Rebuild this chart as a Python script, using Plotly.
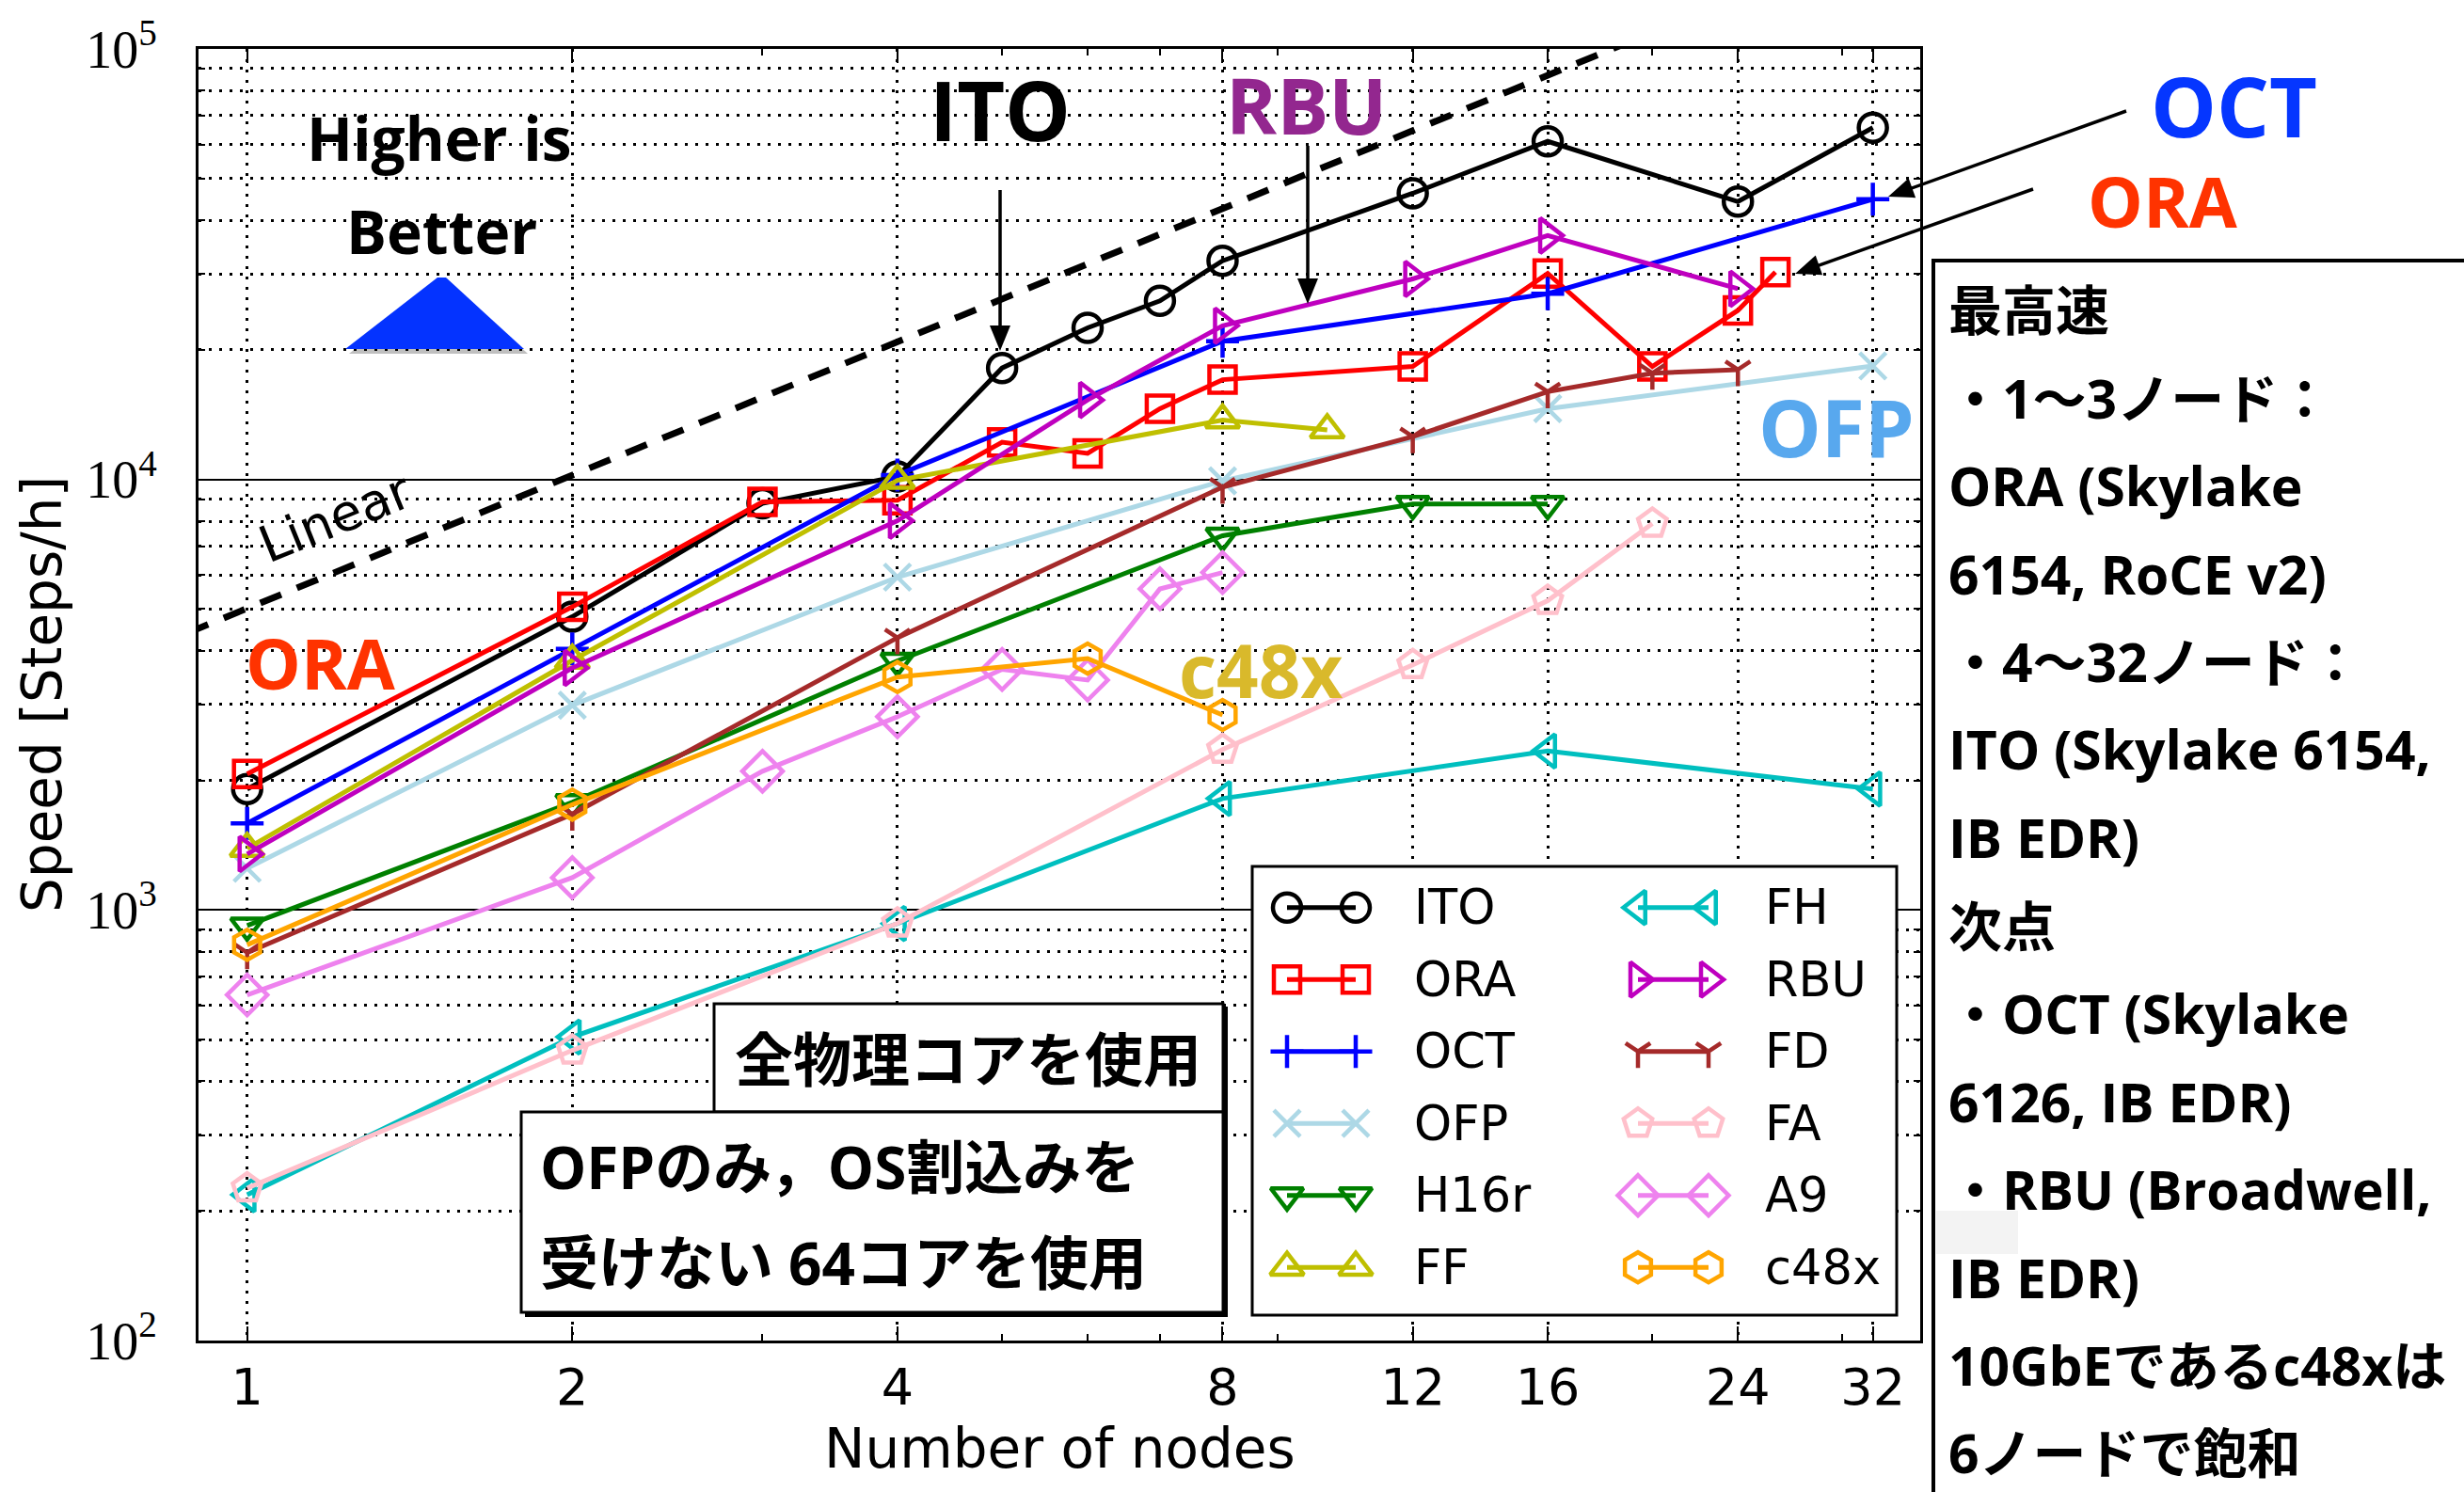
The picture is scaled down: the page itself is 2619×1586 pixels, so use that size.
import math
import plotly.graph_objects as go

# ---------------------------------------------------------------------------
# Measured speed [steps/h] against number of nodes, one pair of lists per system
# ---------------------------------------------------------------------------
ito_nodes = [1, 2, 3, 4, 5, 6, 7, 8, 12, 16, 24, 32]
ito_speed = [1910, 4800, 8800, 10160, 18150, 22500, 26000, 32200, 46200, 61000, 44200, 65600]

ora_nodes = [1, 2, 3, 4, 5, 6, 7, 8, 12, 16, 20, 24, 26]
ora_speed = [2070, 5060, 8870, 8950, 12200, 11500, 14600, 17050, 18300, 30100, 18300, 24700, 30300]

oct_nodes = [1, 2, 4, 8, 16, 32]
oct_speed = [1590, 4040, 10240, 20950, 27000, 44750]

ofp_nodes = [1, 2, 4, 8, 16, 32]
ofp_speed = [1250, 2990, 5930, 9930, 14600, 18350]

h16r_nodes = [1, 2, 4, 8, 12, 16]
h16r_speed = [920, 1780, 3790, 7400, 8770, 8770]

ff_nodes = [1, 2, 4, 8, 10]
ff_speed = [1390, 3800, 9950, 13740, 13030]

fh_nodes = [1, 2, 4, 8, 16, 32]
fh_speed = [218, 507, 930, 1815, 2340, 1910]

rbu_nodes = [1, 2, 4, 6, 8, 12, 16, 24]
rbu_speed = [1349, 3650, 8020, 15300, 22750, 29230, 36860, 27730]

fd_nodes = [1, 2, 4, 8, 12, 16, 20, 24]
fd_speed = [796, 1670, 4290, 9600, 12570, 15990, 17650, 17990]

fa_nodes = [1, 2, 4, 8, 12, 16, 20]
fa_speed = [226, 472, 931, 2358, 3710, 5230, 7900]

a9_nodes = [1, 2, 3, 4, 5, 6, 7, 8]
a9_speed = [635, 1189, 2100, 2812, 3621, 3420, 5570, 6080]

c48x_nodes = [1, 2, 4, 6, 8]
c48x_speed = [830, 1757, 3476, 3837, 2838]

# ideal linear-scaling reference
linear_nodes = [0.88, 19.0]
linear_speed = [4400, 103600]

x_tick_values = [1, 2, 4, 8, 12, 16, 24, 32]
x_tick_labels = ["1", "2", "4", "8", "12", "16", "24", "32"]
x_minor_values = [3, 5, 6, 7, 9, 20, 30]
y_tick_values = [100, 1000, 10000, 100000]
y_tick_labels = ["10<sup>2</sup>", "10<sup>3</sup>", "10<sup>4</sup>", "10<sup>5</sup>"]

# name, nodes, speed, colour, marker symbol, marker size
series = [
    ("ITO", ito_nodes, ito_speed, "#000000", "circle-open", 30),
    ("ORA", ora_nodes, ora_speed, "#FF0000", "square-open", 28),
    ("OCT", oct_nodes, oct_speed, "#0000FF", "cross-thin-open", 25),
    ("OFP", ofp_nodes, ofp_speed, "#ADD8E6", "x-thin-open", 28),
    ("H16r", h16r_nodes, h16r_speed, "#008000", "triangle-down-open", 30),
    ("FF", ff_nodes, ff_speed, "#BFBF00", "triangle-up-open", 31),
    ("FH", fh_nodes, fh_speed, "#00BFBF", "triangle-left-open", 31),
    ("RBU", rbu_nodes, rbu_speed, "#BF00BF", "triangle-right-open", 32),
    ("FD", fd_nodes, fd_speed, "#A52A2A", "y-down-open", 22),
    ("FA", fa_nodes, fa_speed, "#FFC0CB", "pentagon-open", 32),
    ("A9", a9_nodes, a9_speed, "#EE82EE", "diamond-open", 33),
    ("c48x", c48x_nodes, c48x_speed, "#FFA500", "hexagon-open", 32),
]

LINE_W = 5
EDGE_W = 4.5

# ---------------------------------------------------------------------------
# page geometry (pixels) and helpers to turn pixels into paper fractions
# ---------------------------------------------------------------------------
W, H = 2619, 1586
L, R, T, B = 211, 2041, 52, 1425


def px(x):
    return (x - L) / (R - L)


def py(y):
    return (B - y) / (B - T)


SANS = "DejaVu Sans"
BOLD = "Open Sans, Noto Sans CJK JP"

fig = go.Figure()

# reference line for ideal scaling
fig.add_trace(go.Scatter(
    x=linear_nodes, y=linear_speed, mode="lines",
    line=dict(color="black", width=7, dash="24px,18px"),
    hoverinfo="skip", showlegend=False,
))

for name, nodes, speed, color, symbol, size in series:
    fig.add_trace(go.Scatter(
        x=nodes, y=speed, mode="lines+markers", name=name,
        line=dict(color=color, width=LINE_W),
        marker=dict(symbol=symbol, size=size, color=color,
                    line=dict(color=color, width=EDGE_W)),
        cliponaxis=False, showlegend=False,
    ))

# ---------------------------------------------------------------------------
# hand-built two-column legend on its own pixel-scaled subplot
# ---------------------------------------------------------------------------
LG_L, LG_R, LG_T, LG_B = 1331, 2016, 921, 1398
fig.add_trace(go.Scatter(
    x=[LG_L, LG_R, LG_R, LG_L, LG_L], y=[LG_T, LG_T, LG_B, LG_B, LG_T],
    fill="toself", fillcolor="white", mode="lines", line=dict(width=0),
    xaxis="x2", yaxis="y2", hoverinfo="skip", showlegend=False,
))
row_y0, row_step = 964.7, 76.5
col_marks = [(1368, 1441), (1741, 1816)]
col_text = [1501, 1874]
annotations = []
for i, (name, nodes, speed, color, symbol, size) in enumerate(series):
    col, row = divmod(i, 6)
    yy = row_y0 + row_step * row
    fig.add_trace(go.Scatter(
        x=list(col_marks[col]), y=[yy, yy], mode="lines+markers",
        line=dict(color=color, width=LINE_W),
        marker=dict(symbol=symbol, size=size, color=color,
                    line=dict(color=color, width=EDGE_W)),
        xaxis="x2", yaxis="y2", hoverinfo="skip", showlegend=False,
    ))
    annotations.append(dict(
        x=px(col_text[col]), y=py(yy), xref="paper", yref="paper",
        text=name, showarrow=False, xanchor="left", yanchor="middle",
        font=dict(family=SANS, size=51, color="black"),
    ))

# ---------------------------------------------------------------------------
# text labels
# ---------------------------------------------------------------------------


def label(x, y, text, size, color="black", family=BOLD, bold=True, **kw):
    annotations.append(dict(
        x=px(x), y=py(y), xref="paper", yref="paper",
        text=f"<b>{text}</b>" if bold else text, showarrow=False,
        xanchor=kw.pop("xanchor", "center"), yanchor="middle",
        font=dict(family=family, size=size, color=color), **kw,
    ))


label(467, 146, "Higher is", 64)
label(469, 246, "Better", 64)
label(1063, 116, "ITO", 88)
label(1388, 111, "RBU", 82, "#93278F")
label(2374, 112, "OCT", 88, "#0536FF")
label(2299, 214, "ORA", 74, "#FF3300")
label(1952, 453, "OFP", 84, "#58A8EE")
label(341, 704, "ORA", 74, "#FF3300")
label(1340, 712, "c48x", 78, "#D9B92B")
label(356, 550, "Linear", 54, family=SANS, bold=False, textangle=-22)

label(1029, 1126, "全物理コアを使用", 62)
label(572, 1240, "OFPのみ，OS割込みを", 62, xanchor="left")
label(572, 1342, "受けない 64コアを使用", 62, xanchor="left")

panel_lines = [
    "最高速",
    "・1〜3ノード：",
    "ORA (Skylake",
    "6154, RoCE v2)",
    "・4〜32ノード：",
    "ITO (Skylake 6154,",
    "IB EDR)",
    "次点",
    "・OCT (Skylake",
    "6126, IB EDR)",
    "・RBU (Broadwell,",
    "IB EDR)",
    "10GbEであるc48xは",
    "6ノードで飽和",
]
for k, line in enumerate(panel_lines):
    label(2069, 329 + 93.5 * k, line, 57, xanchor="left")

# axis titles
label(1126, 1540, "Number of nodes", 58, family=SANS, bold=False)
label(45, 738, "Speed [Steps/h]", 58, family=SANS, bold=False, textangle=-90)

# ---------------------------------------------------------------------------
# shapes: arrows, boxes, panel, "higher is better" triangle
# ---------------------------------------------------------------------------
shapes = []


def rect(x0, y0, x1, y1, fill="white", line_w=0, line_c="black"):
    shapes.append(dict(
        type="rect", xref="paper", yref="paper",
        x0=px(x0), x1=px(x1), y0=py(y1), y1=py(y0),
        fillcolor=fill, line=dict(width=line_w, color=line_c), layer="above",
    ))


def poly(points, fill):
    path = "M " + " L ".join(f"{px(a):.5f},{py(b):.5f}" for a, b in points) + " Z"
    shapes.append(dict(type="path", xref="paper", yref="paper", path=path,
                       fillcolor=fill, line=dict(width=0), layer="above"))


def arrow(tail, tip, head_len=27, head_half=11, width=3.5):
    dx, dy = tip[0] - tail[0], tip[1] - tail[1]
    n = math.hypot(dx, dy)
    ux, uy = dx / n, dy / n
    bx, by = tip[0] - ux * head_len, tip[1] - uy * head_len
    shapes.append(dict(type="line", xref="paper", yref="paper",
                       x0=px(tail[0]), y0=py(tail[1]),
                       x1=px(bx + ux * 4), y1=py(by + uy * 4),
                       line=dict(color="black", width=width), layer="above"))
    poly([tip, (bx - uy * head_half, by + ux * head_half),
          (bx + uy * head_half, by - ux * head_half)], "black")


arrow((1063, 202), (1063, 373))
arrow((1390, 155), (1390, 323))
arrow((2260, 118), (2007, 209))
arrow((2161, 201), (1908, 291))

# note boxes with a dark drop shadow
rect(762, 1070, 1305, 1187, fill="black")
rect(759, 1067, 1300, 1182, line_w=3)
rect(558, 1186, 1305, 1400, fill="black")
rect(554, 1182, 1300, 1395, line_w=3)

# legend frame
rect(LG_L, LG_T, LG_R, LG_B, fill="rgba(0,0,0,0)", line_w=3)

# side panel
rect(2055, 277, 2700, 1700, line_w=4)
rect(2058, 1287, 2145, 1333, fill="#F3F3F3")

# blue arrow-like triangle with soft shadow
poly([(469, 299), (478, 299), (561, 376), (371, 376)], "rgba(0,0,0,0.25)")
poly([(465, 295), (474, 295), (557, 371), (367, 371)], "#0433FF")

fig.update_layout(
    width=W, height=H,
    margin=dict(l=L, r=W - R, t=T, b=H - B, pad=0),
    paper_bgcolor="white", plot_bgcolor="white",
    template="none", showlegend=False,
    xaxis=dict(
        type="log", range=[math.log10(0.9015), math.log10(35.4)],
        tickmode="array", tickvals=x_tick_values, ticktext=x_tick_labels,
        ticks="inside", ticklen=15, tickwidth=2, tickcolor="black",
        showline=True, linewidth=3, linecolor="black", mirror="ticks",
        showgrid=True, gridcolor="black", gridwidth=2.5, griddash="3px,8px",
        zeroline=False, automargin=False,
        tickfont=dict(family=SANS, size=54, color="black"),
        ticklabelstandoff=0,
        minor=dict(tickmode="array", tickvals=x_minor_values, ticks="inside",
                   ticklen=7, tickwidth=2, tickcolor="black", showgrid=False),
    ),
    yaxis=dict(
        type="log", range=[2, 5],
        tickmode="array", tickvals=y_tick_values, ticktext=y_tick_labels,
        ticks="inside", ticklen=15, tickwidth=2, tickcolor="black",
        showline=True, linewidth=3, linecolor="black", mirror="ticks",
        showgrid=True, gridcolor="black", gridwidth=1.8,
        zeroline=False, automargin=False,
        tickfont=dict(family="Liberation Serif", size=56, color="black"),
        ticklabelstandoff=30,
        minor=dict(tickmode="array",
                   tickvals=[m * 10 ** e for e in (2, 3, 4) for m in range(2, 10)],
                   ticks="inside", ticklen=7, tickwidth=2, tickcolor="black",
                   showgrid=True, gridcolor="black", gridwidth=2.5,
                   griddash="3px,8px"),
    ),
    xaxis2=dict(domain=[px(LG_L), px(LG_R)], range=[LG_L, LG_R], anchor="y2",
                visible=False, showgrid=False, zeroline=False, fixedrange=True),
    yaxis2=dict(domain=[py(LG_B), py(LG_T)], range=[LG_B, LG_T], anchor="x2",
                visible=False, showgrid=False, zeroline=False, fixedrange=True),
    annotations=annotations,
    shapes=shapes,
)

fig.write_html("out.html")
